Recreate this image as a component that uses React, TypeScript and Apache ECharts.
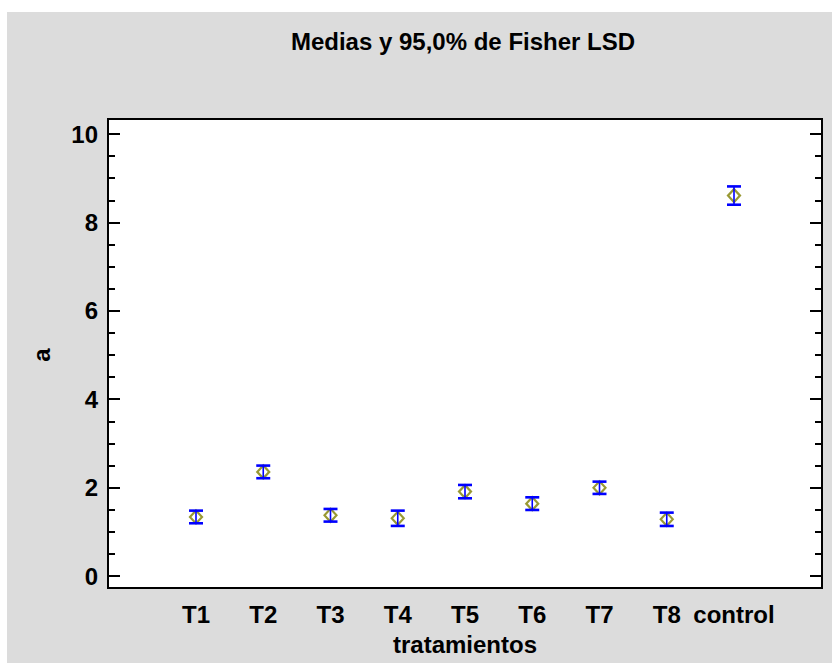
import React, { useEffect, useRef } from "react";
import * as echarts from "echarts";

// ---- data ----
const categories = ["T1", "T2", "T3", "T4", "T5", "T6", "T7", "T8", "control"];
const positions = [1, 2, 3, 4, 5, 6, 7, 8, 9];
const means = [1.336, 2.355, 1.374, 1.306, 1.909, 1.637, 1.996, 1.283, 8.607];
const halfLsd = [0.143, 0.143, 0.143, 0.173, 0.151, 0.143, 0.139, 0.151, 0.207];
const yMin = 0;
const yMax = 10;
const yInterval = 2;
const xMin = 0;
const xMax = 10;

const titleText = "Medias y 95,0% de Fisher LSD";
const xName = "tratamientos";
const yName = "a";

const FONT = "'Liberation Sans', Arial, sans-serif";

export default function App() {
  const ref = useRef<HTMLDivElement>(null);

  useEffect(() => {
    if (!ref.current) return;
    const chart = echarts.init(ref.current, undefined, { renderer: "svg" });

    const tickStyle = { color: "#000", width: 2 };
    const labelFont = { fontFamily: FONT, fontWeight: "bold" as const, fontSize: 24, color: "#000" };

    const option: any = {
      animation: false,
      backgroundColor: "#dcdcdc",
      graphic: [
        { type: "rect", z: -10, shape: { x: 0, y: 0, width: 832, height: 12 }, style: { fill: "#fff" } },
        { type: "rect", z: -10, shape: { x: 0, y: 0, width: 7, height: 663 }, style: { fill: "#fff" } },
        {
          type: "text",
          x: 463,
          y: 41,
          style: {
            text: titleText,
            fill: "#000",
            font: `bold 24px ${FONT}`,
            textAlign: "center",
            textVerticalAlign: "middle",
          },
        },
      ],
      grid: [
        { left: 108, top: 119, width: 714, height: 469, show: true, backgroundColor: "#fff", borderColor: "#000", borderWidth: 2 },
        { left: 108, top: 134, width: 714, height: 442 },
        { left: 128.75, top: 134, width: 672.5, height: 442 },
      ],
      xAxis: [
        { gridIndex: 0, type: "value", show: false, min: 0, max: 1 },
        { gridIndex: 1, type: "value", show: false, min: 0, max: 1 },
        {
          gridIndex: 2,
          type: "value",
          min: xMin,
          max: xMax,
          interval: 1,
          axisLine: { show: false },
          axisTick: { show: false },
          splitLine: { show: false },
          axisLabel: {
            ...labelFont,
            margin: 26,
            formatter: (v: number) => {
              const i = positions.indexOf(v);
              return i >= 0 ? categories[i] : "";
            },
          },
          name: xName,
          nameLocation: "middle",
          nameGap: 56,
          nameTextStyle: { ...labelFont },
        },
      ],
      yAxis: [
        { gridIndex: 0, type: "value", show: false, min: 0, max: 1 },
        {
          gridIndex: 1,
          type: "value",
          position: "left",
          min: yMin,
          max: yMax,
          interval: yInterval,
          axisLine: { show: false },
          axisTick: { show: true, inside: true, length: 12, lineStyle: tickStyle },
          minorTick: { show: true, splitNumber: 4, length: 7, lineStyle: tickStyle },
          splitLine: { show: false },
          minorSplitLine: { show: false },
          axisLabel: { ...labelFont, margin: 10 },
          name: yName,
          nameLocation: "middle",
          nameRotate: 90,
          nameGap: 55,
          nameTextStyle: { ...labelFont },
        },
        {
          gridIndex: 1,
          type: "value",
          position: "right",
          min: yMin,
          max: yMax,
          interval: yInterval,
          axisLine: { show: false },
          axisTick: { show: true, inside: true, length: 12, lineStyle: tickStyle },
          minorTick: { show: true, splitNumber: 4, length: 7, lineStyle: tickStyle },
          splitLine: { show: false },
          minorSplitLine: { show: false },
          axisLabel: { show: false },
        },
        { gridIndex: 2, type: "value", show: false, min: yMin, max: yMax },
      ],
      series: [
        {
          type: "scatter",
          xAxisIndex: 2,
          yAxisIndex: 3,
          symbol: "diamond",
          symbolSize: [12, 13],
          itemStyle: { color: "rgba(0,0,0,0)", borderColor: "#808000", borderWidth: 2.2 },
          data: positions.map((p, i) => [p, means[i]]),
          z: 2,
        },
        {
          type: "custom",
          xAxisIndex: 2,
          yAxisIndex: 3,
          z: 3,
          encode: { x: 0, y: [1, 2, 3] },
          data: positions.map((p, i) => [p, means[i], means[i] - halfLsd[i], means[i] + halfLsd[i]]),
          renderItem: (params: any, api: any) => {
            const x = api.value(0);
            const lo = api.coord([x, api.value(2)]);
            const hi = api.coord([x, api.value(3)]);
            const hw = 7;
            const blue = "#0000ff";
            return {
              type: "group",
              children: [
                { type: "line", shape: { x1: lo[0], y1: lo[1], x2: hi[0], y2: hi[1] }, style: { stroke: blue, lineWidth: 1.6 } },
                { type: "line", shape: { x1: lo[0] - hw, y1: lo[1], x2: lo[0] + hw, y2: lo[1] }, style: { stroke: blue, lineWidth: 2.6 } },
                { type: "line", shape: { x1: hi[0] - hw, y1: hi[1], x2: hi[0] + hw, y2: hi[1] }, style: { stroke: blue, lineWidth: 2.6 } },
              ],
            };
          },
        },
      ],
    };

    chart.setOption(option);
    return () => chart.dispose();
  }, []);

  return (
    <div
      ref={ref}
      style={{ position: "absolute", left: 0, top: 0, width: 832, height: 663 }}
    />
  );
}
